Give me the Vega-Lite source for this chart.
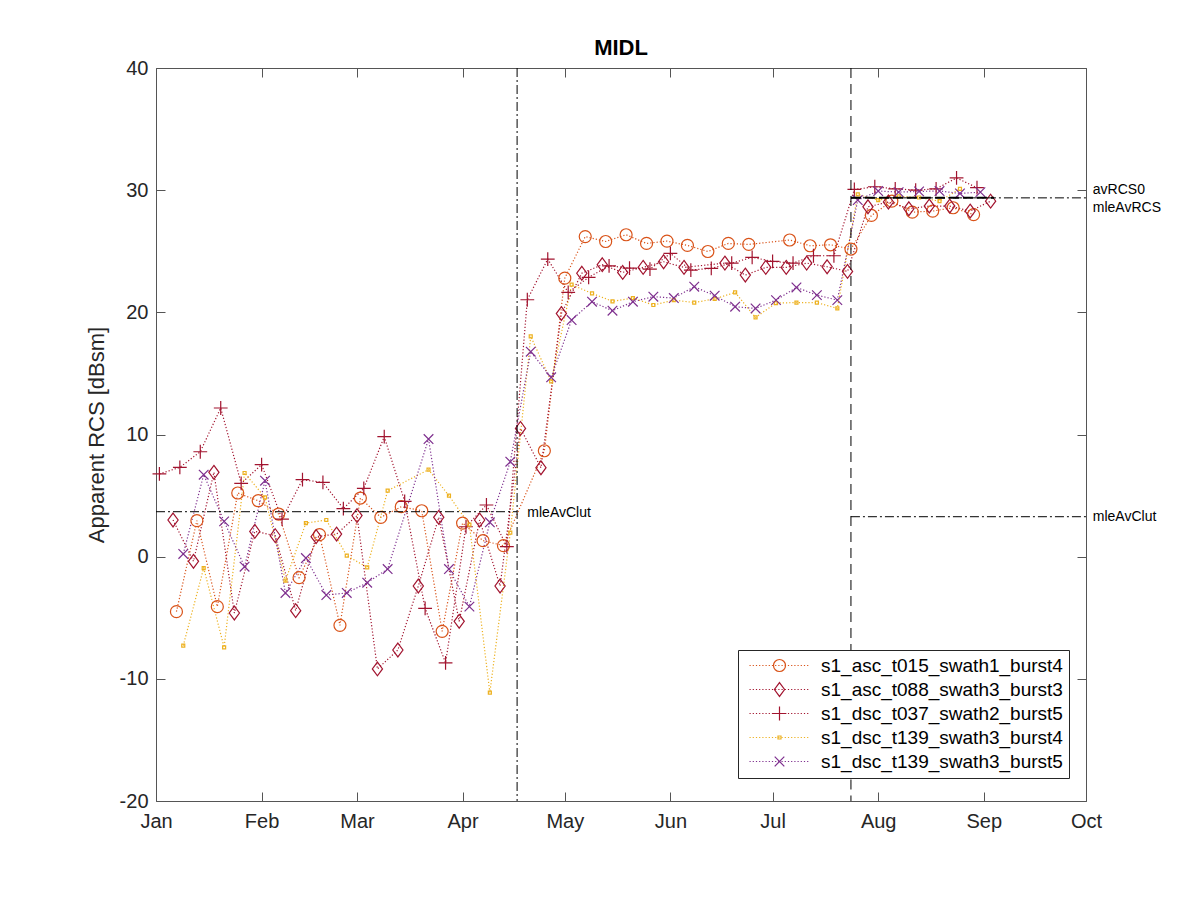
{
  "$schema": "https://vega.github.io/schema/vega-lite/v6.json",
  "width": 930,
  "height": 733,
  "autosize": {"type": "none"},
  "padding": {"left": 156, "top": 68, "right": 114, "bottom": 99},
  "background": "white",
  "title": {"text": "MIDL", "fontSize": 22, "font": "Liberation Sans", "fontWeight": "bold", "color": "#000000", "offset": -2, "anchor": "middle"},
  "config": {"view": {"stroke": null}, "font": "Liberation Sans"},
  "datasets": {
    "pts": [
      {"series": "s1_asc_t015_swath1_burst4", "date": "2017-01-07", "rcs": -4.5},
      {"series": "s1_asc_t015_swath1_burst4", "date": "2017-01-13", "rcs": 2.95},
      {"series": "s1_asc_t015_swath1_burst4", "date": "2017-01-19", "rcs": -4.09},
      {"series": "s1_asc_t015_swath1_burst4", "date": "2017-01-25", "rcs": 5.21},
      {"series": "s1_asc_t015_swath1_burst4", "date": "2017-01-31", "rcs": 4.58},
      {"series": "s1_asc_t015_swath1_burst4", "date": "2017-02-06", "rcs": 3.49},
      {"series": "s1_asc_t015_swath1_burst4", "date": "2017-02-12", "rcs": -1.72},
      {"series": "s1_asc_t015_swath1_burst4", "date": "2017-02-18", "rcs": 1.8},
      {"series": "s1_asc_t015_swath1_burst4", "date": "2017-02-24", "rcs": -5.62},
      {"series": "s1_asc_t015_swath1_burst4", "date": "2017-03-02", "rcs": 4.8},
      {"series": "s1_asc_t015_swath1_burst4", "date": "2017-03-08", "rcs": 3.22},
      {"series": "s1_asc_t015_swath1_burst4", "date": "2017-03-14", "rcs": 4.09},
      {"series": "s1_asc_t015_swath1_burst4", "date": "2017-03-20", "rcs": 3.76},
      {"series": "s1_asc_t015_swath1_burst4", "date": "2017-03-26", "rcs": -6.11},
      {"series": "s1_asc_t015_swath1_burst4", "date": "2017-04-01", "rcs": 2.75},
      {"series": "s1_asc_t015_swath1_burst4", "date": "2017-04-07", "rcs": 1.31},
      {"series": "s1_asc_t015_swath1_burst4", "date": "2017-04-13", "rcs": 0.9},
      {"series": "s1_asc_t015_swath1_burst4", "date": "2017-04-25", "rcs": 8.67},
      {"series": "s1_asc_t015_swath1_burst4", "date": "2017-05-01", "rcs": 22.8},
      {"series": "s1_asc_t015_swath1_burst4", "date": "2017-05-07", "rcs": 26.2},
      {"series": "s1_asc_t015_swath1_burst4", "date": "2017-05-13", "rcs": 25.8},
      {"series": "s1_asc_t015_swath1_burst4", "date": "2017-05-19", "rcs": 26.35},
      {"series": "s1_asc_t015_swath1_burst4", "date": "2017-05-25", "rcs": 25.64},
      {"series": "s1_asc_t015_swath1_burst4", "date": "2017-05-31", "rcs": 25.83},
      {"series": "s1_asc_t015_swath1_burst4", "date": "2017-06-06", "rcs": 25.48},
      {"series": "s1_asc_t015_swath1_burst4", "date": "2017-06-12", "rcs": 24.98},
      {"series": "s1_asc_t015_swath1_burst4", "date": "2017-06-18", "rcs": 25.64},
      {"series": "s1_asc_t015_swath1_burst4", "date": "2017-06-24", "rcs": 25.56},
      {"series": "s1_asc_t015_swath1_burst4", "date": "2017-07-06", "rcs": 25.92},
      {"series": "s1_asc_t015_swath1_burst4", "date": "2017-07-12", "rcs": 25.45},
      {"series": "s1_asc_t015_swath1_burst4", "date": "2017-07-18", "rcs": 25.53},
      {"series": "s1_asc_t015_swath1_burst4", "date": "2017-07-24", "rcs": 25.18},
      {"series": "s1_asc_t015_swath1_burst4", "date": "2017-07-30", "rcs": 27.93},
      {"series": "s1_asc_t015_swath1_burst4", "date": "2017-08-05", "rcs": 29.1},
      {"series": "s1_asc_t015_swath1_burst4", "date": "2017-08-11", "rcs": 28.2},
      {"series": "s1_asc_t015_swath1_burst4", "date": "2017-08-17", "rcs": 28.29},
      {"series": "s1_asc_t015_swath1_burst4", "date": "2017-08-23", "rcs": 28.56},
      {"series": "s1_asc_t015_swath1_burst4", "date": "2017-08-29", "rcs": 28.0},

      {"series": "s1_asc_t088_swath3_burst3", "date": "2017-01-06", "rcs": 3.0},
      {"series": "s1_asc_t088_swath3_burst3", "date": "2017-01-12", "rcs": -0.38},
      {"series": "s1_asc_t088_swath3_burst3", "date": "2017-01-18", "rcs": 6.9},
      {"series": "s1_asc_t088_swath3_burst3", "date": "2017-01-24", "rcs": -4.61},
      {"series": "s1_asc_t088_swath3_burst3", "date": "2017-01-30", "rcs": 2.07},
      {"series": "s1_asc_t088_swath3_burst3", "date": "2017-02-05", "rcs": 1.72},
      {"series": "s1_asc_t088_swath3_burst3", "date": "2017-02-11", "rcs": -4.42},
      {"series": "s1_asc_t088_swath3_burst3", "date": "2017-02-17", "rcs": 1.64},
      {"series": "s1_asc_t088_swath3_burst3", "date": "2017-02-23", "rcs": 1.85},
      {"series": "s1_asc_t088_swath3_burst3", "date": "2017-03-01", "rcs": 3.36},
      {"series": "s1_asc_t088_swath3_burst3", "date": "2017-03-07", "rcs": -9.19},
      {"series": "s1_asc_t088_swath3_burst3", "date": "2017-03-13", "rcs": -7.64},
      {"series": "s1_asc_t088_swath3_burst3", "date": "2017-03-19", "rcs": -2.4},
      {"series": "s1_asc_t088_swath3_burst3", "date": "2017-03-25", "rcs": 3.22},
      {"series": "s1_asc_t088_swath3_burst3", "date": "2017-03-31", "rcs": -5.29},
      {"series": "s1_asc_t088_swath3_burst3", "date": "2017-04-06", "rcs": 3.0},
      {"series": "s1_asc_t088_swath3_burst3", "date": "2017-04-12", "rcs": -2.4},
      {"series": "s1_asc_t088_swath3_burst3", "date": "2017-04-18", "rcs": 10.5},
      {"series": "s1_asc_t088_swath3_burst3", "date": "2017-04-24", "rcs": 7.28},
      {"series": "s1_asc_t088_swath3_burst3", "date": "2017-04-30", "rcs": 19.9},
      {"series": "s1_asc_t088_swath3_burst3", "date": "2017-05-06", "rcs": 23.2},
      {"series": "s1_asc_t088_swath3_burst3", "date": "2017-05-12", "rcs": 23.9},
      {"series": "s1_asc_t088_swath3_burst3", "date": "2017-05-18", "rcs": 23.27},
      {"series": "s1_asc_t088_swath3_burst3", "date": "2017-05-24", "rcs": 23.68},
      {"series": "s1_asc_t088_swath3_burst3", "date": "2017-05-30", "rcs": 24.14},
      {"series": "s1_asc_t088_swath3_burst3", "date": "2017-06-05", "rcs": 23.68},
      {"series": "s1_asc_t088_swath3_burst3", "date": "2017-06-17", "rcs": 24.03},
      {"series": "s1_asc_t088_swath3_burst3", "date": "2017-06-23", "rcs": 23.05},
      {"series": "s1_asc_t088_swath3_burst3", "date": "2017-06-29", "rcs": 23.68},
      {"series": "s1_asc_t088_swath3_burst3", "date": "2017-07-05", "rcs": 23.68},
      {"series": "s1_asc_t088_swath3_burst3", "date": "2017-07-11", "rcs": 24.03},
      {"series": "s1_asc_t088_swath3_burst3", "date": "2017-07-17", "rcs": 23.73},
      {"series": "s1_asc_t088_swath3_burst3", "date": "2017-07-23", "rcs": 23.35},
      {"series": "s1_asc_t088_swath3_burst3", "date": "2017-07-29", "rcs": 28.64},
      {"series": "s1_asc_t088_swath3_burst3", "date": "2017-08-04", "rcs": 29.03},
      {"series": "s1_asc_t088_swath3_burst3", "date": "2017-08-10", "rcs": 28.48},
      {"series": "s1_asc_t088_swath3_burst3", "date": "2017-08-16", "rcs": 28.7},
      {"series": "s1_asc_t088_swath3_burst3", "date": "2017-08-22", "rcs": 28.7},
      {"series": "s1_asc_t088_swath3_burst3", "date": "2017-08-28", "rcs": 28.29},
      {"series": "s1_asc_t088_swath3_burst3", "date": "2017-09-03", "rcs": 29.1},

      {"series": "s1_dsc_t037_swath2_burst5", "date": "2017-01-02", "rcs": 6.77},
      {"series": "s1_dsc_t037_swath2_burst5", "date": "2017-01-08", "rcs": 7.31},
      {"series": "s1_dsc_t037_swath2_burst5", "date": "2017-01-14", "rcs": 8.59},
      {"series": "s1_dsc_t037_swath2_burst5", "date": "2017-01-20", "rcs": 12.17},
      {"series": "s1_dsc_t037_swath2_burst5", "date": "2017-01-26", "rcs": 6.0},
      {"series": "s1_dsc_t037_swath2_burst5", "date": "2017-02-01", "rcs": 7.53},
      {"series": "s1_dsc_t037_swath2_burst5", "date": "2017-02-07", "rcs": 3.08},
      {"series": "s1_dsc_t037_swath2_burst5", "date": "2017-02-13", "rcs": 6.3},
      {"series": "s1_dsc_t037_swath2_burst5", "date": "2017-02-19", "rcs": 6.08},
      {"series": "s1_dsc_t037_swath2_burst5", "date": "2017-02-25", "rcs": 3.93},
      {"series": "s1_dsc_t037_swath2_burst5", "date": "2017-03-03", "rcs": 5.59},
      {"series": "s1_dsc_t037_swath2_burst5", "date": "2017-03-09", "rcs": 9.82},
      {"series": "s1_dsc_t037_swath2_burst5", "date": "2017-03-15", "rcs": 4.53},
      {"series": "s1_dsc_t037_swath2_burst5", "date": "2017-03-21", "rcs": -4.23},
      {"series": "s1_dsc_t037_swath2_burst5", "date": "2017-03-27", "rcs": -8.7},
      {"series": "s1_dsc_t037_swath2_burst5", "date": "2017-04-02", "rcs": 2.45},
      {"series": "s1_dsc_t037_swath2_burst5", "date": "2017-04-08", "rcs": 4.23},
      {"series": "s1_dsc_t037_swath2_burst5", "date": "2017-04-14", "rcs": 0.82},
      {"series": "s1_dsc_t037_swath2_burst5", "date": "2017-04-20", "rcs": 21.03},
      {"series": "s1_dsc_t037_swath2_burst5", "date": "2017-04-26", "rcs": 24.36},
      {"series": "s1_dsc_t037_swath2_burst5", "date": "2017-05-02", "rcs": 21.63},
      {"series": "s1_dsc_t037_swath2_burst5", "date": "2017-05-08", "rcs": 22.86},
      {"series": "s1_dsc_t037_swath2_burst5", "date": "2017-05-14", "rcs": 23.81},
      {"series": "s1_dsc_t037_swath2_burst5", "date": "2017-05-20", "rcs": 23.62},
      {"series": "s1_dsc_t037_swath2_burst5", "date": "2017-05-26", "rcs": 23.54},
      {"series": "s1_dsc_t037_swath2_burst5", "date": "2017-06-01", "rcs": 24.82},
      {"series": "s1_dsc_t037_swath2_burst5", "date": "2017-06-07", "rcs": 23.46},
      {"series": "s1_dsc_t037_swath2_burst5", "date": "2017-06-13", "rcs": 23.6},
      {"series": "s1_dsc_t037_swath2_burst5", "date": "2017-06-19", "rcs": 24.03},
      {"series": "s1_dsc_t037_swath2_burst5", "date": "2017-06-25", "rcs": 24.5},
      {"series": "s1_dsc_t037_swath2_burst5", "date": "2017-07-01", "rcs": 24.17},
      {"series": "s1_dsc_t037_swath2_burst5", "date": "2017-07-07", "rcs": 24.03},
      {"series": "s1_dsc_t037_swath2_burst5", "date": "2017-07-13", "rcs": 24.63},
      {"series": "s1_dsc_t037_swath2_burst5", "date": "2017-07-19", "rcs": 24.63},
      {"series": "s1_dsc_t037_swath2_burst5", "date": "2017-07-25", "rcs": 30.06},
      {"series": "s1_dsc_t037_swath2_burst5", "date": "2017-07-31", "rcs": 30.28},
      {"series": "s1_dsc_t037_swath2_burst5", "date": "2017-08-06", "rcs": 30.11},
      {"series": "s1_dsc_t037_swath2_burst5", "date": "2017-08-12", "rcs": 30.0},
      {"series": "s1_dsc_t037_swath2_burst5", "date": "2017-08-18", "rcs": 30.11},
      {"series": "s1_dsc_t037_swath2_burst5", "date": "2017-08-24", "rcs": 31.0},
      {"series": "s1_dsc_t037_swath2_burst5", "date": "2017-08-30", "rcs": 30.2},

      {"series": "s1_dsc_t139_swath3_burst4", "date": "2017-01-09", "rcs": -7.28},
      {"series": "s1_dsc_t139_swath3_burst4", "date": "2017-01-15", "rcs": -0.93},
      {"series": "s1_dsc_t139_swath3_burst4", "date": "2017-01-21", "rcs": -7.42},
      {"series": "s1_dsc_t139_swath3_burst4", "date": "2017-01-27", "rcs": 6.85},
      {"series": "s1_dsc_t139_swath3_burst4", "date": "2017-02-02", "rcs": 4.85},
      {"series": "s1_dsc_t139_swath3_burst4", "date": "2017-02-08", "rcs": -1.96},
      {"series": "s1_dsc_t139_swath3_burst4", "date": "2017-02-14", "rcs": 2.75},
      {"series": "s1_dsc_t139_swath3_burst4", "date": "2017-02-20", "rcs": 3.0},
      {"series": "s1_dsc_t139_swath3_burst4", "date": "2017-02-26", "rcs": 0.08},
      {"series": "s1_dsc_t139_swath3_burst4", "date": "2017-03-04", "rcs": -0.87},
      {"series": "s1_dsc_t139_swath3_burst4", "date": "2017-03-10", "rcs": 5.4},
      {"series": "s1_dsc_t139_swath3_burst4", "date": "2017-03-22", "rcs": 7.12},
      {"series": "s1_dsc_t139_swath3_burst4", "date": "2017-03-28", "rcs": 4.99},
      {"series": "s1_dsc_t139_swath3_burst4", "date": "2017-04-03", "rcs": 2.62},
      {"series": "s1_dsc_t139_swath3_burst4", "date": "2017-04-09", "rcs": -11.13},
      {"series": "s1_dsc_t139_swath3_burst4", "date": "2017-04-15", "rcs": 1.96},
      {"series": "s1_dsc_t139_swath3_burst4", "date": "2017-04-21", "rcs": 18.03},
      {"series": "s1_dsc_t139_swath3_burst4", "date": "2017-04-27", "rcs": 14.35},
      {"series": "s1_dsc_t139_swath3_burst4", "date": "2017-05-03", "rcs": 22.26},
      {"series": "s1_dsc_t139_swath3_burst4", "date": "2017-05-09", "rcs": 21.55},
      {"series": "s1_dsc_t139_swath3_burst4", "date": "2017-05-15", "rcs": 20.9},
      {"series": "s1_dsc_t139_swath3_burst4", "date": "2017-05-21", "rcs": 21.17},
      {"series": "s1_dsc_t139_swath3_burst4", "date": "2017-05-27", "rcs": 20.6},
      {"series": "s1_dsc_t139_swath3_burst4", "date": "2017-06-02", "rcs": 21.0},
      {"series": "s1_dsc_t139_swath3_burst4", "date": "2017-06-08", "rcs": 20.8},
      {"series": "s1_dsc_t139_swath3_burst4", "date": "2017-06-14", "rcs": 21.1},
      {"series": "s1_dsc_t139_swath3_burst4", "date": "2017-06-20", "rcs": 21.63},
      {"series": "s1_dsc_t139_swath3_burst4", "date": "2017-06-26", "rcs": 19.58},
      {"series": "s1_dsc_t139_swath3_burst4", "date": "2017-07-02", "rcs": 20.76},
      {"series": "s1_dsc_t139_swath3_burst4", "date": "2017-07-08", "rcs": 20.8},
      {"series": "s1_dsc_t139_swath3_burst4", "date": "2017-07-14", "rcs": 20.8},
      {"series": "s1_dsc_t139_swath3_burst4", "date": "2017-07-20", "rcs": 20.32},
      {"series": "s1_dsc_t139_swath3_burst4", "date": "2017-07-26", "rcs": 29.65},
      {"series": "s1_dsc_t139_swath3_burst4", "date": "2017-08-01", "rcs": 29.19},
      {"series": "s1_dsc_t139_swath3_burst4", "date": "2017-08-07", "rcs": 29.5},
      {"series": "s1_dsc_t139_swath3_burst4", "date": "2017-08-13", "rcs": 29.4},
      {"series": "s1_dsc_t139_swath3_burst4", "date": "2017-08-19", "rcs": 29.1},
      {"series": "s1_dsc_t139_swath3_burst4", "date": "2017-08-25", "rcs": 30.1},

      {"series": "s1_dsc_t139_swath3_burst5", "date": "2017-01-09", "rcs": 0.22},
      {"series": "s1_dsc_t139_swath3_burst5", "date": "2017-01-15", "rcs": 6.71},
      {"series": "s1_dsc_t139_swath3_burst5", "date": "2017-01-21", "rcs": 2.89},
      {"series": "s1_dsc_t139_swath3_burst5", "date": "2017-01-27", "rcs": -0.82},
      {"series": "s1_dsc_t139_swath3_burst5", "date": "2017-02-02", "rcs": 6.22},
      {"series": "s1_dsc_t139_swath3_burst5", "date": "2017-02-08", "rcs": -2.97},
      {"series": "s1_dsc_t139_swath3_burst5", "date": "2017-02-14", "rcs": -0.11},
      {"series": "s1_dsc_t139_swath3_burst5", "date": "2017-02-20", "rcs": -3.14},
      {"series": "s1_dsc_t139_swath3_burst5", "date": "2017-02-26", "rcs": -2.97},
      {"series": "s1_dsc_t139_swath3_burst5", "date": "2017-03-04", "rcs": -2.13},
      {"series": "s1_dsc_t139_swath3_burst5", "date": "2017-03-10", "rcs": -1.01},
      {"series": "s1_dsc_t139_swath3_burst5", "date": "2017-03-22", "rcs": 9.63},
      {"series": "s1_dsc_t139_swath3_burst5", "date": "2017-03-28", "rcs": -1.01},
      {"series": "s1_dsc_t139_swath3_burst5", "date": "2017-04-03", "rcs": -4.09},
      {"series": "s1_dsc_t139_swath3_burst5", "date": "2017-04-09", "rcs": 2.81},
      {"series": "s1_dsc_t139_swath3_burst5", "date": "2017-04-15", "rcs": 7.77},
      {"series": "s1_dsc_t139_swath3_burst5", "date": "2017-04-21", "rcs": 16.78},
      {"series": "s1_dsc_t139_swath3_burst5", "date": "2017-04-27", "rcs": 14.68},
      {"series": "s1_dsc_t139_swath3_burst5", "date": "2017-05-03", "rcs": 19.37},
      {"series": "s1_dsc_t139_swath3_burst5", "date": "2017-05-09", "rcs": 20.87},
      {"series": "s1_dsc_t139_swath3_burst5", "date": "2017-05-15", "rcs": 20.13},
      {"series": "s1_dsc_t139_swath3_burst5", "date": "2017-05-21", "rcs": 20.87},
      {"series": "s1_dsc_t139_swath3_burst5", "date": "2017-05-27", "rcs": 21.28},
      {"series": "s1_dsc_t139_swath3_burst5", "date": "2017-06-02", "rcs": 21.17},
      {"series": "s1_dsc_t139_swath3_burst5", "date": "2017-06-08", "rcs": 22.1},
      {"series": "s1_dsc_t139_swath3_burst5", "date": "2017-06-14", "rcs": 21.36},
      {"series": "s1_dsc_t139_swath3_burst5", "date": "2017-06-20", "rcs": 20.46},
      {"series": "s1_dsc_t139_swath3_burst5", "date": "2017-06-26", "rcs": 20.32},
      {"series": "s1_dsc_t139_swath3_burst5", "date": "2017-07-02", "rcs": 21.0},
      {"series": "s1_dsc_t139_swath3_burst5", "date": "2017-07-08", "rcs": 22.04},
      {"series": "s1_dsc_t139_swath3_burst5", "date": "2017-07-14", "rcs": 21.41},
      {"series": "s1_dsc_t139_swath3_burst5", "date": "2017-07-20", "rcs": 21.0},
      {"series": "s1_dsc_t139_swath3_burst5", "date": "2017-07-26", "rcs": 29.19},
      {"series": "s1_dsc_t139_swath3_burst5", "date": "2017-08-01", "rcs": 29.93},
      {"series": "s1_dsc_t139_swath3_burst5", "date": "2017-08-07", "rcs": 29.84},
      {"series": "s1_dsc_t139_swath3_burst5", "date": "2017-08-13", "rcs": 29.9},
      {"series": "s1_dsc_t139_swath3_burst5", "date": "2017-08-19", "rcs": 29.93},
      {"series": "s1_dsc_t139_swath3_burst5", "date": "2017-08-25", "rcs": 29.73},
      {"series": "s1_dsc_t139_swath3_burst5", "date": "2017-08-31", "rcs": 29.84}
    ]
  },
  "data": {"name": "pts"},
  "resolve": {"axis": {"x": "independent", "y": "independent"}},
  "layer": [
    {
      "mark": {"type": "line", "strokeDash": [1.2, 2], "strokeWidth": 1.2},
      "encoding": {
        "x": {"field": "date", "type": "temporal",
          "scale": {"domain": [{"year": 2017, "month": 1, "date": 1}, {"year": 2017, "month": 10, "date": 1}]},
          "axis": {"orient": "bottom", "title": null, "format": "%b", "tickCount": {"interval": "month", "step": 1}, "grid": false, "tickSize": -9, "labelPadding": 19, "labelFontSize": 20, "labelFont": "Liberation Sans", "labelColor": "#262626", "domainColor": "#555555", "tickColor": "#555555", "labelFlush": false, "labelOverlap": false}},
        "y": {"field": "rcs", "type": "quantitative",
          "scale": {"domain": [-20, 40], "nice": false, "zero": false},
          "axis": {"orient": "left", "title": "Apparent RCS [dBsm]", "values": [-20, -10, 0, 10, 20, 30, 40], "labelExpr": "'' + datum.value", "grid": false, "tickSize": -9, "labelPadding": 17, "labelFontSize": 20, "labelFont": "Liberation Sans", "labelColor": "#262626", "titleFontSize": 22, "titleFont": "Liberation Sans", "titleFontWeight": "normal", "titleColor": "#262626", "titlePadding": 11, "domainColor": "#555555", "tickColor": "#555555"}},
        "stroke": {"field": "series", "type": "nominal",
          "scale": {"domain": ["s1_asc_t015_swath1_burst4", "s1_asc_t088_swath3_burst3", "s1_dsc_t037_swath2_burst5", "s1_dsc_t139_swath3_burst4", "s1_dsc_t139_swath3_burst5", "zz"], "range": ["#D95319", "#A2142F", "#A2142F", "#EDB120", "#7E2F8E", "transparent"]},
          "legend": {"orient": "none", "legendX": 582, "legendY": 582, "title": null, "labelFontSize": 19, "labelFont": "Liberation Sans", "labelColor": "transparent", "labelLimit": 400, "symbolType": "M-5,0L5,0", "symbolSize": 144, "symbolStrokeWidth": 1.2, "symbolDash": [1.2, 2], "symbolOffset": 26, "labelOffset": 32, "padding": 6, "rowPadding": 4}}
      }
    },
    {
      "mark": {"type": "point", "filled": false, "size": 144, "strokeWidth": 1.2, "opacity": 1},
      "encoding": {
        "x": {"field": "date", "type": "temporal", "scale": {"domain": [{"year": 2017, "month": 1, "date": 1}, {"year": 2017, "month": 10, "date": 1}]}, "axis": null},
        "y": {"field": "rcs", "type": "quantitative", "scale": {"domain": [-20, 40], "nice": false, "zero": false}, "axis": null},
        "color": {"field": "series", "type": "nominal",
          "scale": {"domain": ["s1_asc_t015_swath1_burst4", "s1_asc_t088_swath3_burst3", "s1_dsc_t037_swath2_burst5", "s1_dsc_t139_swath3_burst4", "s1_dsc_t139_swath3_burst5"], "range": ["#D95319", "#A2142F", "#A2142F", "#EDB120", "#7E2F8E"]},
          "legend": {"orient": "none", "legendX": 582, "legendY": 582, "title": null, "labelFontSize": 19, "labelFont": "Liberation Sans", "labelColor": "#000000", "labelLimit": 400, "symbolSize": 144, "symbolStrokeWidth": 1.2, "symbolOffset": 26, "labelOffset": 32, "padding": 6, "rowPadding": 4, "strokeColor": "#262626"}},
        "shape": {"field": "series", "type": "nominal",
          "scale": {"domain": ["s1_asc_t015_swath1_burst4", "s1_asc_t088_swath3_burst3", "s1_dsc_t037_swath2_burst5", "s1_dsc_t139_swath3_burst4", "s1_dsc_t139_swath3_burst5"], "range": ["M-1,0A1,1,0,1,1,1,0A1,1,0,1,1,-1,0Z", "M0,-1.15L0.85,0L0,1.15L-0.85,0Z", "M-1.15,0L1.15,0M0,-1.15L0,1.15", "M-0.25,-0.25L0.25,-0.25L0.25,0.25L-0.25,0.25Z", "M-0.8,-0.8L0.8,0.8M-0.8,0.8L0.8,-0.8"]},
          "legend": {"orient": "none", "legendX": 582, "legendY": 582, "title": null, "labelFontSize": 19, "labelFont": "Liberation Sans", "labelColor": "#000000", "labelLimit": 400, "symbolSize": 144, "symbolStrokeWidth": 1.2, "symbolOffset": 26, "labelOffset": 32, "padding": 6, "rowPadding": 4, "strokeColor": "#262626"}}
      }
    },
    {
      "data": {"values": [{"date": "2017-04-17"}]},
      "mark": {"type": "rule", "color": "#000000", "strokeWidth": 1, "strokeDash": [9, 3, 2, 3]},
      "encoding": {
        "x": {"field": "date", "type": "temporal", "scale": {"domain": [{"year": 2017, "month": 1, "date": 1}, {"year": 2017, "month": 10, "date": 1}]}, "axis": null}
      }
    },
    {
      "data": {"values": [
        {"date": "2017-07-24", "top": 40, "bottom": -7.69},
        {"date": "2017-07-24", "top": -18.24, "bottom": -20}
      ]},
      "mark": {"type": "rule", "color": "#000000", "strokeWidth": 1, "strokeDash": [10, 6]},
      "encoding": {
        "x": {"field": "date", "type": "temporal", "scale": {"domain": [{"year": 2017, "month": 1, "date": 1}, {"year": 2017, "month": 10, "date": 1}]}, "axis": null},
        "y": {"field": "top", "type": "quantitative", "scale": {"domain": [-20, 40], "nice": false, "zero": false}, "axis": null},
        "y2": {"field": "bottom"}
      }
    },
    {
      "data": {"values": [
        {"date": "2017-01-01", "date2": "2017-04-17", "rcs": 3.68},
        {"date": "2017-07-24", "date2": "2017-10-01", "rcs": 3.27},
        {"date": "2017-07-24", "date2": "2017-10-01", "rcs": 29.37}
      ]},
      "mark": {"type": "rule", "color": "#000000", "strokeWidth": 1, "strokeDash": [9, 3, 2, 3]},
      "encoding": {
        "x": {"field": "date", "type": "temporal", "scale": {"domain": [{"year": 2017, "month": 1, "date": 1}, {"year": 2017, "month": 10, "date": 1}]},
          "axis": {"orient": "top", "labels": false, "title": null, "tickCount": {"interval": "month", "step": 1}, "grid": false, "tickSize": -9, "domainColor": "#555555", "tickColor": "#555555"}},
        "x2": {"field": "date2"},
        "y": {"field": "rcs", "type": "quantitative", "scale": {"domain": [-20, 40], "nice": false, "zero": false},
          "axis": {"orient": "right", "labels": false, "title": null, "values": [-20, -10, 0, 10, 20, 30, 40], "grid": false, "tickSize": -9, "domainColor": "#555555", "tickColor": "#555555"}}
      }
    },
    {
      "data": {"values": [{"date": "2017-07-24", "date2": "2017-09-04", "rcs": 29.37}]},
      "mark": {"type": "rule", "color": "#000000", "strokeWidth": 2, "strokeDash": [10, 4]},
      "encoding": {
        "x": {"field": "date", "type": "temporal", "scale": {"domain": [{"year": 2017, "month": 1, "date": 1}, {"year": 2017, "month": 10, "date": 1}]}, "axis": null},
        "x2": {"field": "date2"},
        "y": {"field": "rcs", "type": "quantitative", "scale": {"domain": [-20, 40], "nice": false, "zero": false}, "axis": null}
      }
    },
    {
      "data": {"values": [
        {"label": "mleAvClut", "date": "2017-04-20", "rcs": 3.6},
        {"label": "avRCS0", "date": "2017-10-03", "rcs": 30.0},
        {"label": "mleAvRCS", "date": "2017-10-03", "rcs": 28.56},
        {"label": "mleAvClut", "date": "2017-10-03", "rcs": 3.27}
      ]},
      "mark": {"type": "text", "align": "left", "baseline": "middle", "fontSize": 14, "font": "Liberation Sans", "color": "#000000"},
      "encoding": {
        "x": {"field": "date", "type": "temporal", "scale": {"domain": [{"year": 2017, "month": 1, "date": 1}, {"year": 2017, "month": 10, "date": 1}]}, "axis": null},
        "y": {"field": "rcs", "type": "quantitative", "scale": {"domain": [-20, 40], "nice": false, "zero": false}, "axis": null},
        "text": {"field": "label", "type": "nominal"}
      }
    }
  ]
}
